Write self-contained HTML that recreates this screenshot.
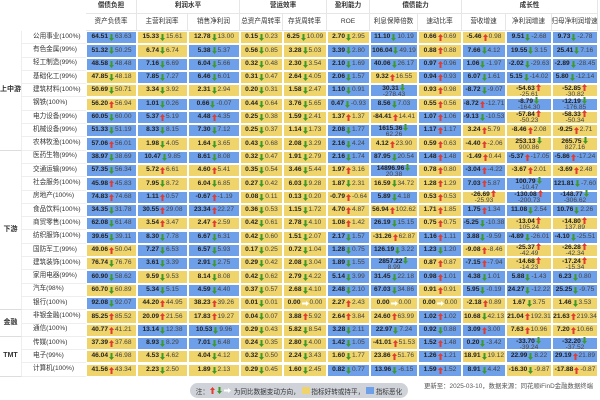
<!DOCTYPE html>
<html><head><meta charset="utf-8"><style>
body{margin:0;width:600px;height:400px;background:#fff;overflow:hidden;font-family:"Liberation Sans","Noto Sans CJK SC",sans-serif;color:#333}
#t{position:absolute;left:0;top:0;width:600px;height:400px}
.c{position:absolute;box-sizing:border-box;display:flex;align-items:center;justify-content:center;text-align:center;white-space:nowrap;font-size:6.6px;line-height:6.8px}
.h{color:#333;font-size:6.6px;border-right:1px solid #e6e6e6;border-bottom:1px solid #e6e6e6}
.d{border:0.5px solid #fff}
.Y{background:#efd46b}.B{background:#6e9fe9}
b{font-weight:bold;color:#222}
.p{color:#444}
svg.ar{display:inline-block;width:5px;height:7px;vertical-align:-1px;margin:0 1px}
.nm{font-size:6.6px;color:#333;border-bottom:1px solid #eee;justify-content:flex-start;padding-left:11px}
.g{font-size:7px;font-weight:bold;color:#333;border-right:1px solid #eee;border-bottom:1px solid #ddd}
</style></head><body>
<div id="t"></div>
<div style="position:absolute;left:190px;top:383px;width:218px;height:15px;background:#cfd3d9;border-radius:8px;font-size:6.6px;display:flex;align-items:center;justify-content:center;color:#333">注：<svg class="ar" viewBox="0 0 10 14"><path d="M5 0L10 6H7V14H3V6H0Z" fill="#e03c31"/></svg><svg class="ar" viewBox="0 0 10 14"><path d="M5 14L10 8H7V0H3V8H0Z" fill="#3f9a2a"/></svg><svg class="ar" style="width:7px" viewBox="0 0 14 10"><path d="M14 5L8 0V3H0V7H8V10Z" fill="#fff"/></svg>&nbsp;为同比数据变动方向，&nbsp;<span style="display:inline-block;width:8px;height:7px;background:#efd46b"></span>&nbsp;指标好转或持平，&nbsp;<span style="display:inline-block;width:8px;height:7px;background:#6e9fe9"></span>&nbsp;指标恶化</div>
<div style="position:absolute;left:424px;top:381px;font-size:6.4px;color:#555;white-space:nowrap">更新至：2025-03-10，数据来源：同花顺iFinD金融数据终端</div>
<script>
const groupHeaders=[["偿债负担",1],["利润水平",2],["营运效率",2],["盈利能力",1],["偿债能力",2],["成长性",3]];
const colHeaders=["资产负债率","主营利润率","销售净利润","总资产周转率","存货周转率","ROE","利息保障倍数","速动比率","营收增速","净利润增速","归母净利润增速"];
const sectors=[["上中游",9],["下游",12],["金融",2],["TMT",3]];
const industries=["公用事业(100%)","有色金属(99%)","轻工制造(99%)","基础化工(99%)","建筑材料(100%)","钢铁(100%)","电力设备(99%)","机械设备(99%)","农林牧渔(100%)","医药生物(99%)","交通运输(99%)","社会服务(100%)","房地产(100%)","食品饮料(100%)","商贸零售(100%)","纺织服饰(100%)","国防军工(99%)","建筑装饰(100%)","家用电器(99%)","汽车(98%)","银行(100%)","非银金融(100%)","通信(100%)","传媒(100%)","电子(99%)","计算机(100%)"];
const cells=[
"64.51 d 63.63 B|15.33 d 15.61 Y|12.78 d 13.00 Y|0.15 d 0.23 Y|6.25 d 10.09 Y|2.70 d 2.95 Y|11.10 d 10.19 B|0.66 u 0.69 Y|-5.46 u 0.98 Y|9.51 d -2.68 B|9.73 d -2.78 B",
"51.32 d 50.25 B|6.74 d 6.74 Y|5.38 d 5.37 B|0.56 d 0.85 Y|3.28 d 5.03 Y|3.39 d 2.80 B|106.04 d 49.19 B|0.88 u 0.88 Y|7.66 d 4.12 B|19.55 d 3.15 B|25.41 d 7.16 B",
"48.58 d 48.48 B|7.16 d 6.69 B|6.04 d 5.66 B|0.32 d 0.48 Y|2.30 d 3.54 Y|2.10 d 1.69 B|40.06 d 26.17 B|0.97 u 0.96 B|1.06 d -1.97 B|-2.02 d -29.63 B|-2.89 d -28.45 B",
"47.85 d 48.18 Y|7.85 d 7.27 B|6.46 d 6.01 B|0.31 d 0.47 Y|2.64 d 4.05 Y|2.06 d 1.57 B|9.32 u 16.55 Y|0.94 u 0.93 B|6.07 d 1.61 B|5.15 d -14.02 B|5.80 d -12.14 B",
"50.69 d 50.71 Y|3.34 d 3.92 Y|2.31 d 2.94 Y|0.20 d 0.31 Y|1.58 d 2.47 Y|1.10 d 0.91 B|30.31 d -278.43 B 2|0.93 u 0.98 Y|-8.72 d -9.07 B|-54.63 u -25.61 Y 2|-52.85 u -30.82 Y 2",
"56.20 u 56.94 Y|1.01 d 0.26 B|0.66 d -0.07 B|0.44 d 0.64 Y|3.76 d 5.65 Y|0.47 d -0.93 B|8.56 d 7.03 B|0.55 u 0.56 Y|-8.72 u -12.71 B|-8.79 d -164.30 B 2|-12.19 d -176.85 B 2",
"60.05 d 60.00 B|5.37 u 5.19 B|4.48 u 4.35 B|0.25 d 0.38 Y|1.59 d 2.41 Y|1.37 u 1.37 Y|-84.41 u 14.41 Y|1.07 u 1.06 B|-9.13 d -10.53 B|-57.84 u -50.23 Y 2|-58.33 u -50.34 Y 2",
"51.33 d 51.19 B|8.33 d 8.15 B|7.30 d 7.12 B|0.25 d 0.37 Y|1.14 d 1.73 Y|2.08 d 1.77 B|1615.36 d 62.26 B 2|1.17 u 1.17 B|3.24 u 5.79 Y|-8.46 u 2.08 Y|-9.25 u 2.71 Y",
"57.06 u 56.01 B|1.98 d 4.05 Y|1.64 d 3.65 Y|0.43 d 0.68 Y|2.08 d 3.29 Y|2.16 d 4.24 B|4.12 u 23.90 Y|0.59 u 0.63 Y|-4.40 u -2.06 Y|253.13 d 900.86 Y 2|265.75 d 827.16 Y 2",
"38.97 d 38.69 B|10.47 d 9.85 B|8.61 d 8.08 B|0.32 d 0.47 Y|1.91 d 2.79 Y|2.16 d 1.74 B|87.95 d 20.54 B|1.48 u 1.48 B|-1.49 u 0.44 Y|-5.37 u -17.05 B|-5.86 u -17.24 B",
"57.35 d 56.34 B|5.72 u 6.61 Y|4.60 u 5.41 Y|0.35 d 0.54 Y|3.46 d 5.44 Y|1.97 u 3.16 Y|14896.96 d 20.38 B 2|0.78 u 0.80 Y|-3.04 u -4.22 B|-3.67 u 2.01 Y|-3.69 u 2.48 Y",
"45.98 u 45.83 B|7.95 d 8.72 Y|6.04 d 6.85 Y|0.27 d 0.42 Y|6.03 d 9.28 Y|1.87 d 2.31 Y|16.59 d 34.72 Y|1.28 u 1.29 Y|7.03 u 5.87 B|100.79 d -10.47 B 2|121.81 d -7.60 B",
"74.83 u 74.68 B|1.11 u 0.57 B|-0.67 u -1.19 B|0.08 d 0.11 Y|0.13 d 0.20 Y|-0.79 u -0.64 Y|5.89 d 4.18 B|0.53 u 0.53 Y|-26.69 u -25.93 Y 2|-130.08 u -200.73 B 2|-148.77 d -306.62 B 2",
"34.35 d 31.78 B|30.55 u 29.08 B|23.34 u 22.27 B|0.36 d 0.53 Y|1.15 d 1.72 Y|4.70 u 4.87 Y|56.94 u 102.62 Y|1.71 u 1.85 Y|1.75 u 1.34 B|11.08 d 2.54 B|10.76 d 2.26 B",
"62.08 d 61.48 B|3.54 u 3.47 Y|2.47 u 2.59 Y|0.42 d 0.61 Y|2.78 d 4.10 Y|1.08 u 1.42 Y|26.19 d 15.15 B|0.75 u 0.75 Y|-5.25 d -10.38 B|-13.04 u 105.24 Y 2|-14.80 u 137.89 Y 2",
"39.65 d 39.11 B|8.30 d 7.78 B|6.67 d 6.31 B|0.42 d 0.60 Y|1.51 d 2.07 Y|2.17 d 1.57 B|-31.26 u 62.87 Y|1.16 u 1.11 B|3.88 d -9.59 B|-4.89 d -26.01 B|-4.10 d -25.51 B",
"49.06 u 50.04 Y|7.27 d 6.53 B|6.57 d 5.93 B|0.17 d 0.25 Y|0.72 d 1.04 Y|1.28 d 0.75 B|126.19 d 3.22 B|1.23 d 1.20 B|-9.08 u -8.46 Y|-25.37 u -42.49 Y 2|-26.28 u -42.34 Y 2",
"76.74 d 76.76 Y|3.61 d 3.39 B|2.91 d 2.75 B|0.29 d 0.42 Y|2.08 d 3.04 Y|1.89 d 1.55 B|2857.22 d 8.99 B 2|0.87 u 0.87 Y|-7.15 u -7.94 B|-14.68 u -14.23 Y 2|-17.24 u -15.34 Y 2",
"60.90 d 58.62 B|9.59 d 9.53 Y|8.14 d 8.08 Y|0.42 d 0.62 Y|2.79 d 4.22 Y|5.14 d 3.99 B|31.45 d 22.18 B|0.98 u 1.01 B|4.38 d 1.01 B|5.88 d -1.43 B|6.23 d 0.80 B",
"60.70 d 60.89 Y|5.34 d 5.15 B|4.59 d 4.40 B|0.37 d 0.57 Y|2.68 d 4.10 Y|2.48 d 2.10 B|67.03 d 34.86 B|0.91 u 0.91 Y|5.95 d -0.19 B|24.27 d -12.22 B|25.25 d -9.75 B",
"92.08 d 92.07 B|44.20 u 44.95 Y|38.23 u 39.26 Y|0.01 d 0.01 Y|0.00 r 0.00 Y|2.27 u 2.43 Y|0.00 r 0.00 Y|0.00 r 0.00 Y|-2.18 u 0.89 Y|1.67 d 3.75 Y|1.46 d 3.53 Y",
"85.25 u 85.52 Y|20.09 u 21.56 Y|17.83 u 19.27 Y|0.04 d 0.07 Y|3.88 u 5.92 Y|2.64 u 3.84 Y|24.60 u 63.99 Y|1.02 u 1.02 B|10.68 d 42.13 Y|21.04 u 192.31 Y|21.63 u 219.34 Y",
"40.77 u 41.21 Y|13.14 d 12.38 B|10.53 d 9.96 B|0.29 d 0.43 Y|5.82 d 8.54 Y|3.28 d 2.11 B|22.97 d 7.24 B|0.92 d 0.88 B|3.09 u 3.00 B|7.63 u 10.96 Y|7.20 u 10.66 Y",
"37.39 u 37.68 Y|8.93 d 8.29 B|7.01 d 6.48 B|0.24 d 0.35 Y|2.80 d 4.00 Y|1.42 d 1.05 B|-41.01 u 51.53 Y|1.52 u 1.48 B|0.20 d -3.42 B|-33.70 d -39.24 B 2|-32.20 d -37.52 B 2",
"46.04 d 46.98 Y|4.53 d 4.62 Y|4.04 d 4.12 Y|0.32 d 0.50 Y|2.24 d 3.43 Y|1.60 d 1.77 Y|23.86 u 51.76 Y|1.26 u 1.21 B|18.91 d 19.12 Y|22.99 d 8.22 B|29.19 u 21.89 B",
"41.56 u 43.34 Y|2.23 d 2.50 Y|1.89 d 2.13 Y|0.29 d 0.45 Y|1.60 d 2.45 Y|0.82 d 0.77 B|13.96 d -6.15 B|1.59 u 1.52 B|8.91 d 4.42 B|-16.30 d -9.87 Y|-17.88 u -0.87 Y"
];
const T=document.getElementById('t');
const X=[86,137,188,240,283,327,370,418,462,506,552,598];
const top0=31,RH=13.3;
function mk(cls,x,y,w,h,html){const e=document.createElement('div');e.className='c '+cls;e.style.left=x+'px';e.style.top=y+'px';e.style.width=w+'px';e.style.height=h+'px';e.innerHTML=html;T.appendChild(e);return e;}
let ci=0;
groupHeaders.forEach(g=>{const e=mk('h',X[ci],0,X[ci+g[1]]-X[ci],14,'<b style="font-weight:bold;color:#333">'+g[0]+'</b>');

ci+=g[1];});
colHeaders.forEach((h,i)=>{const e=mk('h',X[i],14,X[i+1]-X[i],17,h);

});
let ri=0;
sectors.forEach(s=>{const e=mk('g',0,top0+ri*RH,22,s[1]*RH,s[0]);

ri+=s[1];});
const AR={
u:'<svg class="ar" viewBox="0 0 10 14"><path d="M5 0L10 6H7V14H3V6H0Z" fill="#e03c31"/></svg>',
d:'<svg class="ar" viewBox="0 0 10 14"><path d="M5 14L10 8H7V0H3V8H0Z" fill="#3f9a2a"/></svg>',
r:'<svg class="ar" style="width:7px" viewBox="0 0 14 10"><path d="M14 5L8 0V3H0V7H8V10Z" fill="#fff"/></svg>'};
industries.forEach((n,r)=>{const y=top0+r*RH;
const e=mk('nm',22,y,64,RH,n);


cells[r].split('|').forEach((s,c)=>{const p=s.split(' ');const a=AR[p[1]];
const two=p[4]==='2';
const html=two?'<div><b>'+p[0]+'</b>'+a+'<br><span class="p">'+p[2]+'</span></div>':'<b>'+p[0]+'</b>'+a+'<span class="p">'+p[2]+'</span>';
const d=mk('d '+p[3],X[c],y,X[c+1]-X[c],RH,html);
if(two)d.style.lineHeight='6px';

});});
</script>
</body></html>
